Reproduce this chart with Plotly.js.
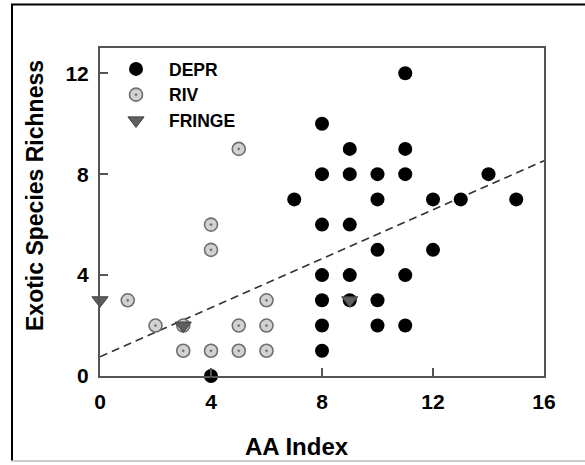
<!DOCTYPE html>
<html>
<head>
<meta charset="utf-8">
<script src="https://cdn.plot.ly/plotly-3.0.1.min.js"></script>
<style>
  html, body { margin: 0; padding: 0; background: #fff; }
  #chart { width: 585px; height: 465px; }
</style>
</head>
<body>
<div id="chart"></div>
<script>
// ---- Data ----
const deprX = [4, 7, 8, 8, 8, 8, 8, 8, 8, 9, 9, 9, 9, 9, 10, 10, 10, 10, 10, 11, 11, 11, 11, 11, 12, 12, 13, 14, 15];
const deprY = [0, 7, 10, 8, 6, 4, 3, 2, 1, 9, 8, 6, 4, 3, 8, 7, 5, 3, 2, 12, 9, 8, 4, 2, 7, 5, 7, 8, 7];

const rivX = [1, 2, 3, 3, 4, 4, 4, 5, 5, 5, 6, 6, 6];
const rivY = [3, 2, 2, 1, 1, 5, 6, 9, 2, 1, 3, 2, 1];

const fringeX = [0, 3, 9];
const fringeY = [3, 2, 3];

const fitX = [0, 16];
const fitY = [0.76, 8.53];

const xTicks = [0, 4, 8, 12, 16];
const yTicks = [0, 4, 8, 12];

const xTitle = 'AA Index';
const yTitle = 'Exotic Species Richness';

const FONT = 'Liberation Sans, Arial, Helvetica, sans-serif';

const traces = [
  {
    x: fitX, y: fitY, mode: 'lines', showlegend: false, hoverinfo: 'skip',
    line: { color: '#333333', width: 1.6, dash: '8px,5px' }
  },
  {
    x: deprX, y: deprY, mode: 'markers', name: 'DEPR', cliponaxis: false,
    marker: { symbol: 'circle', size: 14, color: '#000000', line: { color: '#000000', width: 0 } }
  },
  {
    x: rivX, y: rivY, mode: 'markers', name: 'RIV', cliponaxis: false,
    marker: { symbol: 'circle-dot', size: 13, color: '#d2d2d2', line: { color: '#6e6e6e', width: 1.6 } }
  },
  {
    x: fringeX, y: fringeY, mode: 'markers', name: 'FRINGE', cliponaxis: false,
    marker: { symbol: 'triangle-down', size: 14, color: '#5f5f5f', line: { color: '#3c3c3c', width: 1 } }
  }
];

const L = 100, R = 41, T = 48, B = 89, W = 585, H = 465;
const pw = W - L - R, ph = H - T - B;
const px = v => (v - L) / pw;
const py = v => (H - B - v) / ph;

const layout = {
  width: W, height: H,
  margin: { l: L, r: R, t: T, b: B, pad: 0 },
  paper_bgcolor: '#ffffff', plot_bgcolor: '#ffffff',
  font: { family: FONT, color: '#000000' },
  showlegend: true,
  legend: {
    x: px(103), y: py(51), xanchor: 'left', yanchor: 'top',
    bgcolor: 'rgba(0,0,0,0)', borderwidth: 0,
    font: { family: FONT, size: 17.5, color: '#000', weight: 'bold' },
    itemwidth: 56, tracegroupgap: 0
  },
  xaxis: {
    range: [0, 16], tickvals: xTicks, ticktext: xTicks.map(String),
    ticks: 'inside', ticklen: 8, tickwidth: 1.5, tickcolor: '#555',
    showline: true, linecolor: '#555', linewidth: 2, mirror: true,
    showgrid: false, zeroline: false, fixedrange: true,
    ticklabelstandoff: 6,
    tickfont: { family: FONT, size: 21, color: '#000', weight: 'bold' }
  },
  yaxis: {
    range: [0, 13], tickvals: yTicks, ticktext: yTicks.map(String),
    ticks: 'inside', ticklen: 8, tickwidth: 1.5, tickcolor: '#555',
    showline: true, linecolor: '#555', linewidth: 2, mirror: true,
    showgrid: false, zeroline: false, fixedrange: true,
    ticklabelstandoff: 5,
    tickfont: { family: FONT, size: 21, color: '#000', weight: 'bold' }
  },
  annotations: [
    { text: xTitle, xref: 'paper', yref: 'paper', x: px(297), y: py(446), xanchor: 'center', yanchor: 'middle',
      showarrow: false, font: { family: FONT, size: 24, color: '#000', weight: 'bold' } },
    { text: yTitle, xref: 'paper', yref: 'paper', x: px(35), y: py(196), xanchor: 'center', yanchor: 'middle',
      textangle: -90, showarrow: false, font: { family: FONT, size: 23, color: '#000', weight: 'bold' } }
  ],
  shapes: [
    { type: 'line', xref: 'paper', yref: 'paper', x0: px(12), x1: px(12), y0: py(4.5), y1: py(461), line: { color: '#000', width: 2 }, layer: 'above' },
    { type: 'line', xref: 'paper', yref: 'paper', x0: px(11), x1: px(586), y0: py(4.5), y1: py(4.5), line: { color: '#000', width: 2 }, layer: 'above' },
    { type: 'line', xref: 'paper', yref: 'paper', x0: px(11), x1: px(586), y0: py(461), y1: py(461), line: { color: '#bbbbbb', width: 1.5 }, layer: 'above' }
  ]
};

Plotly.newPlot('chart', traces, layout, { displayModeBar: false, staticPlot: true });
</script>
</body>
</html>
